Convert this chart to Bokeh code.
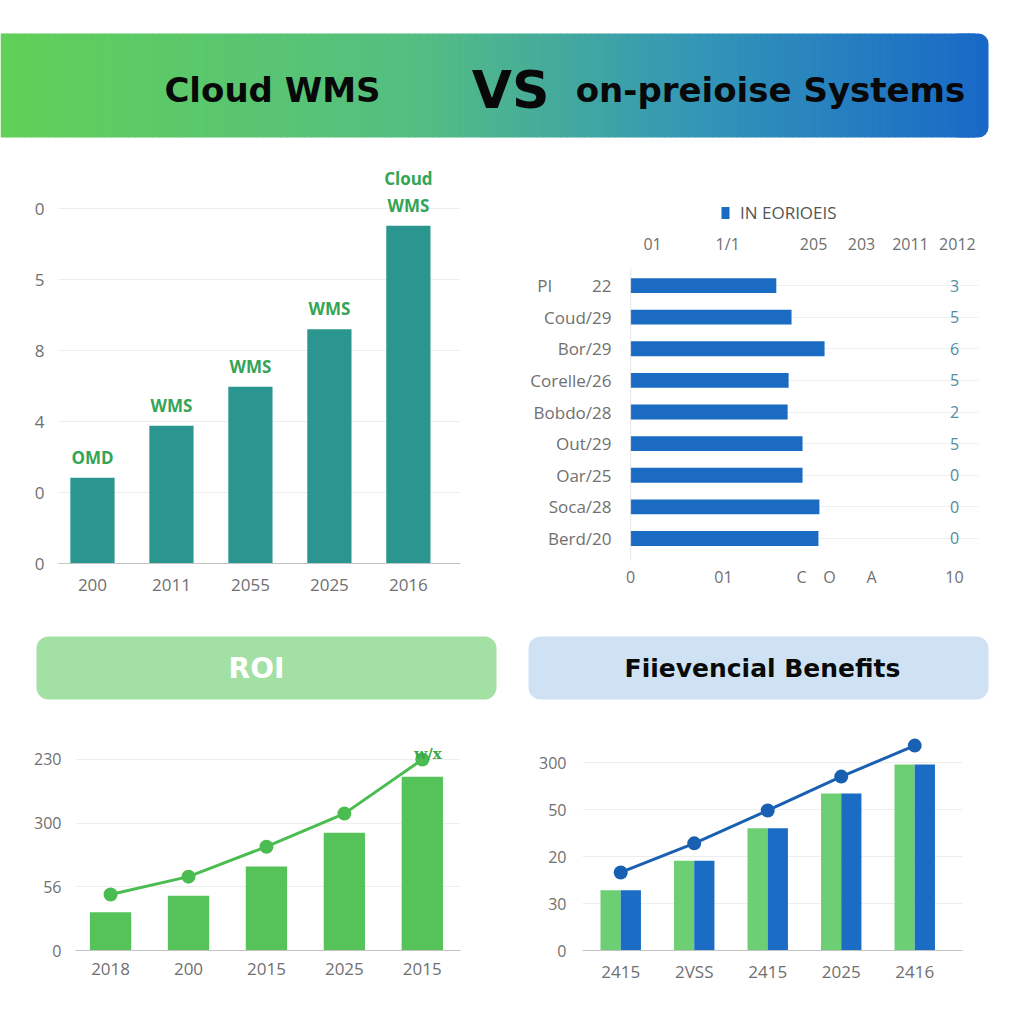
import numpy as np
from bokeh.plotting import figure
from bokeh.models import Range1d, FixedTicker, Legend, LegendItem
from bokeh.layouts import column, row
from bokeh.core.properties import value
from bokeh.embed import file_html
from bokeh.resources import INLINE

# ---------------- data ----------------
title_left = "Cloud WMS"
title_vs = "VS"
title_right = "on-preioise Systems"

tl_years = ["200", "2011", "2055", "2025", "2016"]
tl_values = [1.21, 1.94, 2.49, 3.30, 4.76]
tl_bar_labels = ["OMD", "WMS", "WMS", "WMS", "Cloud\nWMS"]
tl_ytick_values = [0, 1, 2, 3, 4, 5]
tl_ytick_labels = ["0", "0", "4", "8", "5", "0"]

tr_categories = ["PI\u00a0\u00a0\u00a0\u00a0\u00a0\u00a0\u00a0\u00a0\u00a022", "Coud/29", "Bor/29", "Corelle/26",
                 "Bobdo/28", "Out/29", "Oar/25", "Soca/28", "Berd/20"]
tr_values = [4.50, 4.97, 5.99, 4.88, 4.85, 5.31, 5.31, 5.83, 5.80]
tr_right_labels = ["3", "5", "6", "5", "2", "5", "0", "0", "0"]
tr_legend = "IN EORIOEIS"
tr_top_ticks = [0.68, 3.0, 5.65, 7.13, 8.64, 10.09]
tr_top_labels = ["01", "1/1", "205", "203", "2011", "2012"]
tr_bottom_ticks = [0, 2.87, 5.28, 6.14, 7.44, 10]
tr_bottom_labels = ["0", "01", "C", "O", "A", "10"]

roi_title = "ROI"
roi_years = ["2018", "200", "2015", "2025", "2015"]
roi_bars = [0.60, 0.86, 1.32, 1.85, 2.73]
roi_line = [0.88, 1.16, 1.63, 2.15, 3.00]
roi_ytick_values = [0, 1, 2, 3]
roi_ytick_labels = ["0", "56", "300", "230"]
roi_end_label = "w/x"

fb_title = "Fiievencial Benefits"
fb_years = ["2415", "2VSS", "2415", "2025", "2416"]
fb_green = [1.28, 1.91, 2.60, 3.34, 3.96]
fb_blue = [1.28, 1.91, 2.60, 3.34, 3.96]
fb_line = [1.66, 2.28, 2.98, 3.70, 4.36]
fb_ytick_values = [0, 1, 2, 3, 4]
fb_ytick_labels = ["0", "30", "20", "50", "300"]

# ---------------- style ----------------
FONT = "Open Sans"
TITLE_FONT = "DejaVu Sans"
GRAY = "#707070"
GRID = "#ededed"


def mk(w, h, xr, yr, **kw):
    p = figure(width=w, height=h, x_range=xr, y_range=yr, output_backend="svg",
               toolbar_location=None, **kw)
    p.outline_line_color = None
    p.background_fill_color = "white"
    p.border_fill_color = "white"
    return p


def style_axes(p, xticks, xlabels, yticks, ylabels, xsize="17px", ysize="16px",
               xstand=12, ystand=10):
    p.xaxis.ticker = FixedTicker(ticks=list(xticks))
    p.xaxis.major_label_overrides = {t: l for t, l in zip(xticks, xlabels)}
    p.yaxis.ticker = FixedTicker(ticks=list(yticks))
    p.yaxis.major_label_overrides = {t: l for t, l in zip(yticks, ylabels)}
    for ax in (p.xaxis, p.yaxis):
        ax.major_tick_line_color = None
        ax.minor_tick_line_color = None
        ax.major_label_text_font = FONT
        ax.major_label_text_color = GRAY
    p.xaxis.major_label_text_font_size = xsize
    p.yaxis.major_label_text_font_size = ysize
    p.xaxis.major_label_standoff = xstand
    p.yaxis.major_label_standoff = ystand
    p.yaxis.axis_line_color = None
    p.xaxis.axis_line_color = "#c4c4c4"
    p.xgrid.visible = False
    p.ygrid.grid_line_color = GRID


# ---------------- header ----------------
hdr = mk(1016, 150, Range1d(0, 1016), Range1d(150, 0), x_axis_type=None, y_axis_type=None,
         min_border=0)
stops = [(0.0, (96, 208, 88)), (0.42, (84, 190, 130)), (0.7, (52, 150, 182)), (1.0, (24, 104, 200))]


def interp(t):
    for (t0, c0), (t1, c1) in zip(stops[:-1], stops[1:]):
        if t <= t1:
            f = (t - t0) / (t1 - t0)
            c = [int(round(a + (b - a) * f)) for a, b in zip(c0, c1)]
            return "#%02x%02x%02x" % tuple(c)
    return "#%02x%02x%02x" % stops[-1][1]


hx0, hx1, hy0, hy1 = 0, 988, 33, 137
hdr.quad(left=[hx1 - 40], right=[hx1], top=[hy0], bottom=[hy1], fill_color=interp(1.0),
         line_color=None, border_radius=10)
edges = np.linspace(hx0, hx1 - 14, 161)
cols = [interp((e - hx0) / (hx1 - hx0)) for e in edges[:-1]]
hdr.quad(left=edges[:-1], right=edges[1:] + 0.7, top=hy0, bottom=hy1, fill_color=cols, line_color=None)
for tx, txt, fs in ((272, title_left, "34px"), (510, title_vs, "52px"), (770, title_right, "34px")):
    hdr.text(x=[tx], y=[89], text=[txt], text_font=value(TITLE_FONT), text_font_style="bold",
             text_font_size=fs, text_align="center", text_baseline="middle", text_color="#080808")

# ---------------- top left ----------------
tl = mk(500, 455, Range1d(-0.43, 4.66), Range1d(0, 5.68), min_border_left=58, min_border_right=40,
        min_border_top=10, min_border_bottom=42)
tl_x = list(range(len(tl_years)))
tl.vbar(x=tl_x, top=tl_values, width=0.56, fill_color="#2a968f", line_color=None)
tl.text(x=tl_x, y=tl_values, text=tl_bar_labels, text_font=value(FONT), text_font_style="bold",
        text_font_size="17px", text_color="#34a456", text_align="center", text_baseline="bottom",
        y_offset=-9, text_line_height=1.15)
style_axes(tl, tl_x, tl_years, tl_ytick_values, tl_ytick_labels, ysize="17px", xstand=9, ystand=8)

# ---------------- top right ----------------
n_tr = len(tr_categories)
tr_y = list(range(n_tr))
row_px = 31.6
tr = mk(516, 455, Range1d(0, 348 / 32.4), Range1d((n_tr - 1) + 25 / row_px, -125 / row_px),
        min_border_left=130, min_border_right=38, min_border_top=10, min_border_bottom=42)
bars = tr.hbar(y=tr_y, right=tr_values, left=0, height=0.47, fill_color="#1a6bc1", line_color=None)
tr.segment(x0=[0], y0=[-0.55], x1=[0], y1=[n_tr - 0.3], line_color="#d6d6d6", line_width=1.2)
tr.text(x=[tr_bottom_ticks[-1]] * n_tr, y=tr_y, text=tr_right_labels,
        text_font=value(FONT), text_font_size="16px", text_color="#4f8ca3", text_align="center",
        text_baseline="middle")
top_label_row = -42 / row_px
tr.text(x=tr_top_ticks, y=[top_label_row] * len(tr_top_ticks), text=tr_top_labels,
        text_font=value(FONT), text_font_size="16px", text_color=GRAY, text_align="center",
        text_baseline="middle")
tr.xaxis.ticker = FixedTicker(ticks=tr_bottom_ticks)
tr.xaxis.major_label_overrides = {t: l for t, l in zip(tr_bottom_ticks, tr_bottom_labels)}
tr.yaxis.ticker = FixedTicker(ticks=tr_y)
tr.yaxis.major_label_overrides = {i: c for i, c in zip(tr_y, tr_categories)}
for ax in (tr.xaxis[0], tr.yaxis[0]):
    ax.major_tick_line_color = None
    ax.minor_tick_line_color = None
    ax.major_label_text_font = FONT
    ax.major_label_text_color = GRAY
    ax.axis_line_color = None
tr.xaxis[0].major_label_text_font_size = "16px"
tr.yaxis[0].major_label_text_font_size = "17px"
tr.xaxis[0].major_label_standoff = -4
tr.yaxis[0].major_label_standoff = 13
tr.xgrid.visible = False
tr.ygrid.grid_line_color = "#efefef"
leg = Legend(items=[LegendItem(label=tr_legend, renderers=[bars])], orientation="horizontal",
             location=(90, 339), glyph_width=10, glyph_height=15, label_standoff=10,
             label_text_font=FONT, label_text_font_size="17px", label_text_color="#555555",
             border_line_color=None, background_fill_alpha=0, padding=2, margin=0)
tr.add_layout(leg)

# ---------------- section bands ----------------
bands = mk(1016, 110, Range1d(0, 1016), Range1d(715, 605), x_axis_type=None, y_axis_type=None,
           min_border=0)
bands.quad(left=[36, 528], right=[496, 988], top=[636, 636], bottom=[699, 699],
           fill_color=["#a2e0a4", "#cfe2f4"], line_color=None, border_radius=12)
bands.text(x=[256], y=[668], text=[roi_title], text_font=value(TITLE_FONT), text_font_style="bold",
           text_font_size="28px", text_color="white", text_align="center", text_baseline="middle")
bands.text(x=[762], y=[668], text=[fb_title], text_font=value(TITLE_FONT), text_font_style="bold",
           text_font_size="25px", text_color="#0a0a0a", text_align="center", text_baseline="middle")

# ---------------- bottom left (ROI) ----------------
bl = mk(500, 285, Range1d(-0.45, 4.49), Range1d(0, 220 / 63.67), min_border_left=75,
        min_border_right=40, min_border_top=15, min_border_bottom=50)
roi_x = list(range(len(roi_years)))
bl.vbar(x=roi_x, top=roi_bars, width=0.53, fill_color="#55c25a", line_color=None)
bl.line(x=roi_x, y=roi_line, line_color="#4bbd50", line_width=3)
bl.scatter(x=roi_x, y=roi_line, size=14, fill_color="#4bbd50", line_color=None)
bl.text(x=[roi_x[-1]], y=[roi_line[-1]], text=[roi_end_label], text_font=value("DejaVu Serif"),
        text_font_style="bold", text_font_size="15px", text_color="#3aa84a", text_align="left",
        text_baseline="bottom", x_offset=-8, y_offset=4)
style_axes(bl, roi_x, roi_years, roi_ytick_values, roi_ytick_labels, xsize="17px", ysize="16px",
           xstand=6, ystand=8)

# ---------------- bottom right (financial benefits) ----------------
br = mk(516, 285, Range1d(-0.52, 4.65), Range1d(0, 220 / 47.0), min_border_left=82,
        min_border_right=54, min_border_top=15, min_border_bottom=50)
fb_x = np.arange(len(fb_years))
bw = 0.275
br.vbar(x=fb_x - bw / 2, top=fb_green, width=bw, fill_color="#6dcf74", line_color=None)
br.vbar(x=fb_x + bw / 2, top=fb_blue, width=bw, fill_color="#1a6cc4", line_color=None)
br.line(x=fb_x, y=fb_line, line_color="#1a60b2", line_width=3)
br.scatter(x=fb_x, y=fb_line, size=14, fill_color="#1a60b2", line_color=None)
style_axes(br, list(range(len(fb_years))), fb_years, fb_ytick_values, fb_ytick_labels,
           xsize="17px", ysize="16px", xstand=3, ystand=10)

layout = column(hdr, row(tl, tr, spacing=0), bands, row(bl, br, spacing=0), spacing=0)
open("out.html", "w").write(file_html(layout, INLINE))
